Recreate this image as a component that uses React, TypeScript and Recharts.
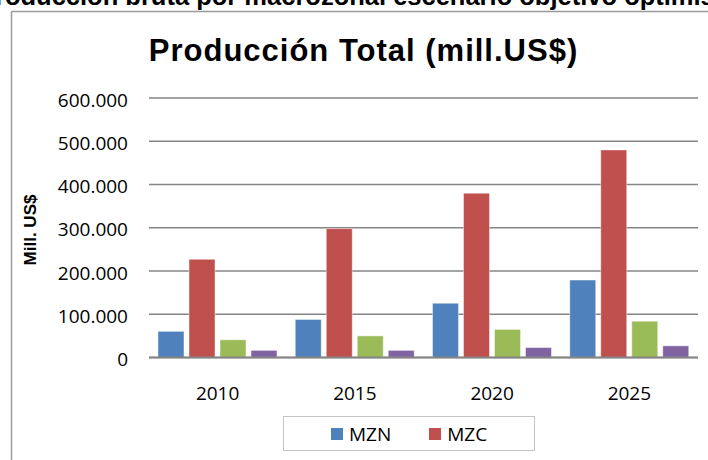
import React from 'react';
import { BarChart, Bar, XAxis, YAxis, CartesianGrid } from 'recharts';

const years = ['2010', '2015', '2020', '2025'];
const mzn = [60500, 88000, 125500, 179000];
const mzc = [227000, 298000, 380000, 480000];
const mzs = [41000, 50000, 65000, 84000];
const mza = [16500, 16500, 23000, 27000];

const seriesNames = ['MZN', 'MZC', 'MZS', 'MZA'];
const seriesColors = ['#4F81BD', '#C0504D', '#9BBB59', '#8064A2'];
// only the first two entries fit in the legend box of the original
const legendShown = ['MZN', 'MZC'];
const yTicks = [0, 100000, 200000, 300000, 400000, 500000, 600000];

const data = years.map((year, i) => ({
  year,
  MZN: mzn[i],
  MZC: mzc[i],
  MZS: mzs[i],
  MZA: mza[i],
}));

const fmt = (v: number) => String(v).replace(/\B(?=(\d{3})+(?!\d))/g, '.');

const tickFont = { fontFamily: '"Open Sans", sans-serif', fontSize: 19, fill: '#000' };

const LegendBox = () => (
  <div
    style={{
      position: 'absolute',
      left: 283,
      top: 416,
      width: 252,
      height: 35,
      boxSizing: 'border-box',
      border: '1.5px solid #c4c4c4',
      display: 'flex',
      alignItems: 'center',
      fontFamily: '"Open Sans", sans-serif',
      fontSize: 19,
      color: '#000',
    }}
  >
    {legendShown.map((name, i) => (
      <div key={name} style={{ display: 'flex', alignItems: 'center', marginLeft: i === 0 ? 47 : 38 }}>
        <span
          style={{
            display: 'inline-block',
            width: 12,
            height: 12,
            background: seriesColors[seriesNames.indexOf(name)],
            marginRight: 6,
          }}
        />
        <span>{name}</span>
      </div>
    ))}
  </div>
);

const App = () => {
  return (
    <div style={{ position: 'absolute', left: 0, top: 0, width: 708, height: 460, overflow: 'hidden', background: '#fff' }}>
      <BarChart
        width={708}
        height={460}
        data={data}
        margin={{ top: 98, right: 10, left: 0, bottom: 0 }}
        barCategoryGap={9}
        barGap={5}
      >
        <CartesianGrid vertical={false} stroke="#858585" strokeWidth={1.3} />
        <XAxis
          dataKey="year"
          height={102.5}
          tickSize={0}
          tickMargin={29}
          tick={tickFont}
          axisLine={{ stroke: '#858585', strokeWidth: 2 }}
          tickLine={false}
        />
        <YAxis
          width={149}
          domain={[0, 600000]}
          ticks={yTicks}
          tickFormatter={fmt}
          tickSize={0}
          tickMargin={21}
          tick={{ ...tickFont, dy: 2 }}
          axisLine={false}
          tickLine={false}
          interval={0}
        />
        {seriesNames.map((name, i) => (
          <Bar
            key={name}
            dataKey={name}
            name={name}
            fill={seriesColors[i]}
            stroke="rgba(255,255,255,0.45)"
            strokeWidth={1}
            isAnimationActive={false}
          />
        ))}
      </BarChart>
      <LegendBox />
      <svg width={708} height={460} style={{ position: 'absolute', left: 0, top: 0, pointerEvents: 'none' }}>
        <line x1={11.5} y1={11.5} x2={708} y2={11.5} stroke="#9a9a9a" strokeWidth={1.5} />
        <line x1={11.5} y1={11.5} x2={11.5} y2={460} stroke="#9a9a9a" strokeWidth={1.5} />
        <text x={-22} y={5} fontFamily='"Liberation Sans", Arial, sans-serif' fontWeight="bold" fontSize={25.5} fill="#000">
          Producción bruta por macrozonal escenario objetivo optimista
        </text>
        <text
          x={363.5}
          y={61}
          textAnchor="middle"
          fontFamily='"Liberation Sans", Arial, sans-serif'
          fontWeight="bold"
          fontSize={31}
          letterSpacing={1}
          fill="#000"
        >
          Producción Total (mill.US$)
        </text>
        <text
          x={0}
          y={0}
          transform="translate(36,230) rotate(-90)"
          textAnchor="middle"
          fontFamily='"Liberation Sans", Arial, sans-serif'
          fontWeight="bold"
          fontSize={17}
          fill="#000"
        >
          Mill. US$
        </text>
      </svg>
    </div>
  );
};

export default App;
